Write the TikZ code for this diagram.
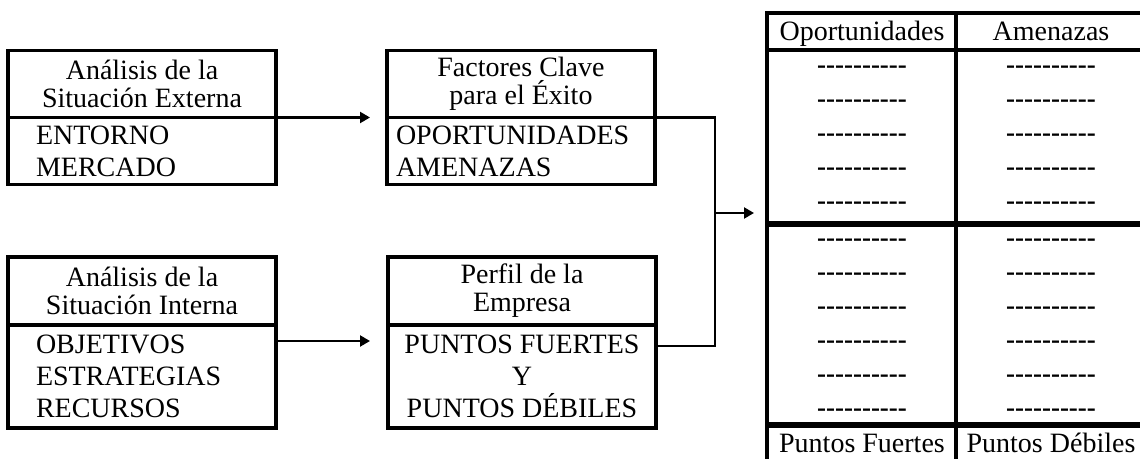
\documentclass[tikz,border=0pt]{standalone}
\usepackage{fontspec}
\setmainfont{Liberation Serif}[Ligatures=TeXOff]
\usetikzlibrary{positioning,arrows.meta}
\tikzset{
    headbox/.style={draw, line width=1.6pt, minimum width=134pt, minimum height=33.5pt,
        inner sep=0pt, outer sep=0pt, align=center, font=\fontsize{14}{14}\selectfont},
    bodybox/.style={draw, line width=1.6pt, minimum width=134pt, minimum height=#1,
        inner sep=0pt, outer sep=0pt, font=\fontsize{14}{16}\selectfont},
    link/.style={line width=1.1pt},
    arrowlink/.style={link, -{Triangle[length=5pt,width=5.5pt]}},
    tablebox/.style={draw, line width=1.6pt, minimum width=189pt, minimum height=228pt,
        inner sep=0pt, outer sep=0pt},
    tablerule/.style={line width=1.6pt},
    thickrule/.style={line width=2.6pt},
    cell/.style={font=\fontsize{14}{16}\selectfont, anchor=base},
    blank/.style={font=\bfseries\fontsize{13.5}{16}\selectfont}
}
\begin{document}
\begin{tikzpicture}[x=0.5pt,y=-0.5pt]
    \clip (0,0) rectangle (1140,459);
    \node[headbox] (exth) at (142,84) {Análisis de la\\Situación Externa};
    \node[bodybox=33.5pt, align=left, text width=106pt, inner xsep=14pt, below=0pt of exth] (extb) {ENTORNO\\MERCADO};
    \node[headbox] (fach) at (521,84) {Factores Clave\\para el Éxito};
    \node[bodybox=33.5pt, align=left, text width=125pt, inner xsep=4.5pt, below=0pt of fach] (facb) {OPORTUNIDADES\\AMENAZAS};
    \node[headbox, minimum height=34pt] (inth) at (142,291) {Análisis de la\\Situación Interna};
    \node[bodybox=51.5pt, align=left, text width=106pt, inner xsep=14pt, below=0pt of inth] (intb) {OBJETIVOS\\ESTRATEGIAS\\RECURSOS};
    \node[headbox, minimum height=34pt] (perh) at (522,291) {Perfil de la\\Empresa};
    \node[bodybox=51.5pt, align=center, below=0pt of perh] (perb) {PUNTOS FUERTES\\Y\\PUNTOS DÉBILES};
    \node[tablebox] (swot) at (956,241) {};
    \draw[tablerule] (swot.north) -- (swot.south);
    \draw[tablerule] (767,50) -- (1145,50);
    \draw[thickrule] (767,224) -- (1145,224);
    \draw[thickrule] (767,425) -- (1145,425);
    \node[cell] (opo) at (862,41) {Oportunidades};
    \node[cell] (ame) at (1051,41) {Amenazas};
    \node[cell] (fue) at (862,452) {Puntos Fuertes};
    \node[cell] (deb) at (1051,452) {Puntos Débiles};
    \node[blank] (o1) at (862,70) {----------};
    \node[blank] (o2) at (862,104) {----------};
    \node[blank] (o3) at (862,138) {----------};
    \node[blank] (o4) at (862,172) {----------};
    \node[blank] (o5) at (862,206) {----------};
    \node[blank] (a1) at (1051,70) {----------};
    \node[blank] (a2) at (1051,104) {----------};
    \node[blank] (a3) at (1051,138) {----------};
    \node[blank] (a4) at (1051,172) {----------};
    \node[blank] (a5) at (1051,206) {----------};
    \node[blank] (f1) at (862,243) {----------};
    \node[blank] (f2) at (862,277) {----------};
    \node[blank] (f3) at (862,311) {----------};
    \node[blank] (f4) at (862,345) {----------};
    \node[blank] (f5) at (862,379) {----------};
    \node[blank] (f6) at (862,413) {----------};
    \node[blank] (d1) at (1051,243) {----------};
    \node[blank] (d2) at (1051,277) {----------};
    \node[blank] (d3) at (1051,311) {----------};
    \node[blank] (d4) at (1051,345) {----------};
    \node[blank] (d5) at (1051,379) {----------};
    \node[blank] (d6) at (1051,413) {----------};
    \coordinate (bend) at (715,346);
    \coordinate (split) at (715,213);
    \draw[arrowlink, shorten >=8.5pt] (exth.south east) -- (fach.south west);
    \draw[arrowlink, shorten >=9pt] ([yshift=-8pt]intb.north east) -- ([yshift=-8pt]perb.north west);
    \draw[link] (fach.south east) -| (bend) -- ([yshift=-10.5pt]perb.north east);
    \draw[arrowlink, shorten >=6.5pt] (split) -- (split -| swot.west);
\end{tikzpicture}
\end{document}
